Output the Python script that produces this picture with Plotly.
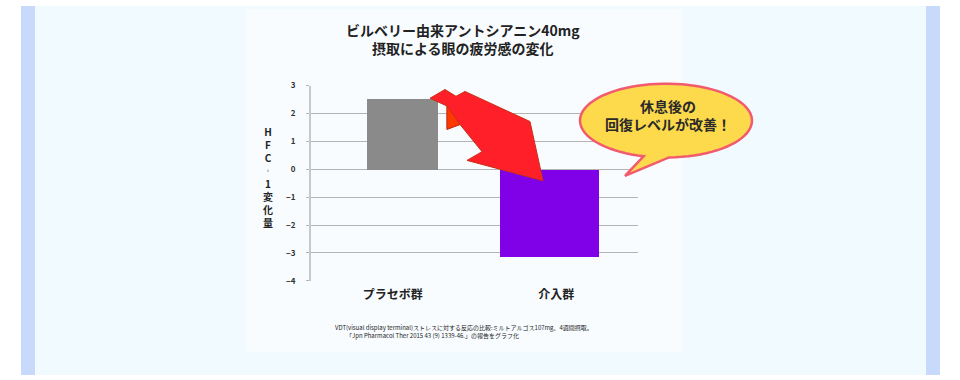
import math
import plotly.graph_objects as go

# ---- data ----
categories = ["プラセボ群", "介入群"]
hfc_change = [2.55, -3.15]
bar_colors = ["#8a8a8a", "#8000e8"]
y_ticks = [3, 2, 1, 0, -1, -2, -3, -4]
title_lines = ["ビルベリー由来アントシアニン40mg", "摂取による眼の疲労感の変化"]
y_title_chars = ["H", "F", "C", "︲", "1", "変", "化", "量"]
callout_lines = ["休息後の", "回復レベルが改善！"]
footnote_lines = [
    "VDT(visual display terminal)ストレスに対する反応の比較:ミルトアルゴス107mg、4週間摂取。",
    "「Jpn Pharmacol Ther 2015 43 (9) 1339-46.」の報告をグラフ化",
]

W, H = 960, 380
FONT = "Noto Sans CJK JP, Noto Sans, sans-serif"


def px(x):
    return x / W


def py(y):
    return 1 - y / H


def path(points, close=True):
    s = "M " + " L ".join(f"{px(x):.5f},{py(y):.5f}" for x, y in points)
    return s + (" Z" if close else "")


fig = go.Figure()
fig.add_trace(go.Bar(
    x=categories, y=hfc_change,
    marker=dict(color=bar_colors, line=dict(width=0)),
    width=[0.434, 0.606], offset=[-0.159, -0.343],
    hoverinfo="skip",
))

shapes = []
# page background
shapes.append(dict(type="rect", xref="paper", yref="paper", x0=px(21), x1=px(35), y0=0, y1=1,
                   fillcolor="#c8dafc", line_width=0, layer="below"))
shapes.append(dict(type="rect", xref="paper", yref="paper", x0=px(35), x1=px(926), y0=0, y1=1,
                   fillcolor="#f0faff", line_width=0, layer="below"))
shapes.append(dict(type="rect", xref="paper", yref="paper", x0=px(926), x1=px(940), y0=0, y1=1,
                   fillcolor="#c8dafc", line_width=0, layer="below"))
shapes.append(dict(type="rect", xref="paper", yref="paper", x0=px(245), x1=px(683), y0=py(356), y1=py(3),
                   fillcolor="#f8fcff", line_width=0, layer="below"))

# red arrow
arrow_pts = [(430, 95), (445, 86), (456, 93), (465, 88), (530, 119), (543, 180),
             (467, 159), (482, 150), (460, 122), (447, 127), (447, 103)]
shapes.append(dict(type="path", xref="paper", yref="paper", path=path(arrow_pts),
                   fillcolor="#ff1f28", line=dict(color="#c83018", width=1), layer="above"))
fold_pts = [(447, 103), (447, 127), (460, 122)]
shapes.append(dict(type="path", xref="paper", yref="paper", path=path(fold_pts),
                   fillcolor="#ff3a00", line=dict(color="#c83018", width=1), layer="above"))

# speech bubble
cx, cy, rx, ry = 666, 118, 86, 38
tip = (625, 175)
t_start, t_end = 88, 105 - 360
pts = [tip]
n = 80
for i in range(n + 1):
    t = math.radians(t_start + (t_end - t_start) * i / n)
    pts.append((cx + rx * math.cos(t), cy + ry * math.sin(t)))
shapes.append(dict(type="path", xref="paper", yref="paper", path=path(pts),
                   fillcolor="#fdd94c", line=dict(color="#f25a6e", width=2.5), layer="above"))

annotations = []
annotations.append(dict(xref="paper", yref="paper", x=px(463), y=py(33.5),
                        text="<br>".join(title_lines), showarrow=False,
                        xanchor="center", yanchor="middle", align="center",
                        font=dict(family=FONT, size=14, color="#222", weight="bold")))
# vertical y-axis title
annotations.append(dict(xref="paper", yref="paper", x=px(268), y=py(176),
                        text="<br>".join(y_title_chars), showarrow=False,
                        xanchor="center", yanchor="middle", align="center",
                        font=dict(family=FONT, size=10, color="#222", weight="bold")))
# callout text
annotations.append(dict(xref="paper", yref="paper", x=px(668), y=py(112),
                        text="<br>".join(callout_lines), showarrow=False,
                        xanchor="center", yanchor="middle", align="center",
                        font=dict(family=FONT, size=14, color="#2a2a2a", weight="bold")))
# footnote
annotations.append(dict(xref="paper", yref="paper", x=px(333), y=py(331), text=footnote_lines[0],
                        showarrow=False, xanchor="left", yanchor="middle",
                        font=dict(family=FONT, size=6, color="#222")))
annotations.append(dict(xref="paper", yref="paper", x=px(344), y=py(339), text=footnote_lines[1],
                        showarrow=False, xanchor="left", yanchor="middle",
                        font=dict(family=FONT, size=6, color="#222")))

fig.update_layout(
    width=W, height=H,
    margin=dict(l=0, r=0, t=0, b=0),
    paper_bgcolor="#ffffff",
    plot_bgcolor="rgba(0,0,0,0)",
    showlegend=False,
    bargap=0,
    shapes=shapes,
    annotations=annotations,
    xaxis=dict(domain=[px(311), px(638)], showgrid=False, ticks="",
               showline=False, zeroline=False, ticklabelstandoff=5,
               tickfont=dict(family=FONT, size=12, color="#222", weight="bold"),
               fixedrange=True),
    yaxis=dict(domain=[py(283), py(82)], range=[-4, 3], tickvals=y_ticks,
               showgrid=True, gridcolor="#b4b4b4", gridwidth=1,
               zeroline=True, zerolinecolor="#b4b4b4", zerolinewidth=1,
               showline=True, linecolor="#c8c8c8", linewidth=2,
               ticks="outside", ticklen=3, tickcolor="#b4b4b4",
               ticklabelstandoff=9,
               tickfont=dict(family=FONT, size=8, color="#333", weight="bold"),
               fixedrange=True),
)

fig.write_html("out.html", config={"displayModeBar": False},
               post_script="document.body.style.margin='0';document.body.style.padding='0';")
